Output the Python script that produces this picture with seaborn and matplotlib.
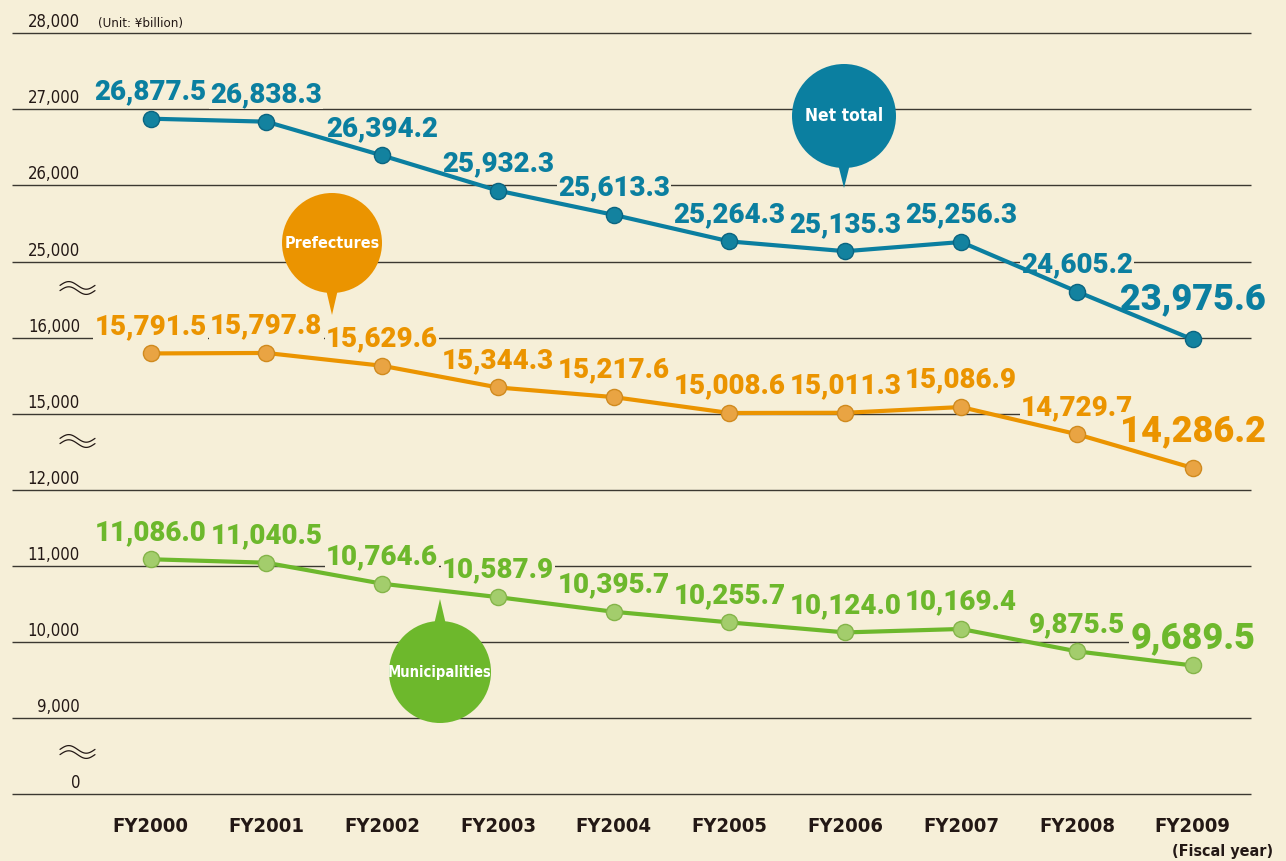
import numpy as np
import pandas as pd
import matplotlib
matplotlib.use("Agg")
import matplotlib.pyplot as plt
import seaborn as sns
from matplotlib.patches import Circle, Polygon

# ---------------- data ----------------
fiscal_years = ["FY2000", "FY2001", "FY2002", "FY2003", "FY2004",
                "FY2005", "FY2006", "FY2007", "FY2008", "FY2009"]
net_total = [26877.5, 26838.3, 26394.2, 25932.3, 25613.3,
             25264.3, 25135.3, 25256.3, 24605.2, 23975.6]
prefectures = [15791.5, 15797.8, 15629.6, 15344.3, 15217.6,
               15008.6, 15011.3, 15086.9, 14729.7, 14286.2]
municipalities = [11086.0, 11040.5, 10764.6, 10587.9, 10395.7,
                  10255.7, 10124.0, 10169.4, 9875.5, 9689.5]
y_tick_values = [0, 9000, 10000, 11000, 12000, 15000, 16000,
                 25000, 26000, 27000, 28000]
series_names = ["Net total", "Prefectures", "Municipalities"]
band_bases = [25000, 15000, 10000]   # broken-axis band in which each series is drawn
band_unit = 1000                     # value per gridline step

# ---------------- styles ----------------
BG = "#F6EFD8"
TXT = "#231815"
line_colors = {"Net total": "#0B7FA0", "Prefectures": "#EB9400", "Municipalities": "#6DB82C"}
marker_face = {"Net total": "#13829F", "Prefectures": "#E9A443", "Municipalities": "#A3CD6C"}
marker_edge = {"Net total": "#0A6581", "Prefectures": "#D08A1E", "Municipalities": "#84B449"}
last_label_offset = {"Net total": 21.5, "Prefectures": 19.0, "Municipalities": 12.5}
bubble_geo = {  # centre x, centre y, radius, tip y (pixels)
    "Net total": (844, 116, 52, 188),
    "Prefectures": (332, 243, 50, 315),
    "Municipalities": (440, 672, 51, 599),
}
bubble_fs = {"Net total": 12.5, "Prefectures": 11.5, "Municipalities": 10.5}

sns.set_theme(style="white")
plt.rcParams["font.family"] = ["DejaVu Sans"]
COND = ["Liberation Sans Narrow", "Noto Sans Condensed", "DejaVu Sans"]
NUM = ["Roboto", "Lato", "DejaVu Sans"]

W, H = 1286, 861
X0, DX = 150.5, 115.8     # pixel x of first category, pixel step
Y0, DY = 794.0, 76.07     # pixel y of gridline 0, pixel step


def px_x(p):
    return (p - X0) / DX


def px_y(p):
    return (Y0 - p) / DY


def to_axis(values, base):
    start = y_tick_values.index(base)
    return [start + (v - base) / band_unit for v in values]


rows = []
for name, vals, base in zip(series_names, [net_total, prefectures, municipalities], band_bases):
    for i, (fy, v) in enumerate(zip(fiscal_years, vals)):
        rows.append({"series": name, "idx": i, "year": fy, "value": v,
                     "pos": to_axis([v], base)[0]})
df = pd.DataFrame(rows)

fig = plt.figure(figsize=(W / 100, H / 100), dpi=100)
fig.patch.set_facecolor(BG)
ax = fig.add_axes([0, 0, 1, 1])
ax.set_facecolor(BG)
ax.set_xlim(px_x(0), px_x(W))
ax.set_ylim(px_y(H), px_y(0))
ax.axis("off")

# gridlines
ax.hlines(range(len(y_tick_values)), px_x(12), px_x(1251), colors="#3b3831",
          linewidth=1.0, zorder=1)

# y tick labels (drawn above each gridline)
for i, v in enumerate(y_tick_values):
    ax.text(px_x(80), i + 6 / DY, f"{v:,}", ha="right", va="baseline",
            fontsize=12, family=COND, fontstretch="condensed", color=TXT)
ax.text(px_x(98), len(y_tick_values) - 1 + 6.5 / DY, "(Unit: ¥billion)", ha="left",
        va="baseline", fontsize=9.5, family=COND, fontstretch="condensed", color=TXT)

# x labels
for i, fy in enumerate(fiscal_years):
    ax.text(i, px_y(832), fy, ha="center", va="baseline", fontsize=14.5,
            fontweight="bold", family=COND, fontstretch="condensed", color=TXT)
ax.text(px_x(1273), px_y(856), "(Fiscal year)", ha="right", va="baseline",
        fontsize=11.5, fontweight="bold", family=COND, fontstretch="condensed", color=TXT)

# lines
sns.lineplot(data=df, x="idx", y="pos", hue="series", palette=line_colors,
             sort=False, linewidth=3, legend=False, errorbar=None, ax=ax, zorder=3)
ax.set_xlim(px_x(0), px_x(W))
ax.set_ylim(px_y(H), px_y(0))

# markers
for name in series_names:
    sub = df[df["series"] == name]
    sns.scatterplot(data=sub, x="idx", y="pos", color=marker_face[name],
                    edgecolor=marker_edge[name], linewidth=1.0, s=135,
                    legend=False, ax=ax, zorder=4)

# value labels
for name in series_names:
    sub = df[df["series"] == name].reset_index(drop=True)
    n = len(sub)
    for k, r in sub.iterrows():
        last = k == n - 1
        ax.annotate(f"{r['value']:,.1f}", xy=(r["idx"], r["pos"]),
                    xytext=(0, last_label_offset[name] if last else 14),
                    textcoords="offset points", ha="center", va="baseline",
                    fontsize=26 if last else 20, fontweight="black", family=NUM,
                    color=line_colors[name], zorder=2.5,
                    bbox=dict(boxstyle="square,pad=0.04", fc=BG, ec="none"))

# overlay in pixel coordinates for callout bubbles and axis-break marks
ov = fig.add_axes([0, 0, 1, 1])
ov.set_xlim(0, W)
ov.set_ylim(H, 0)
ov.axis("off")
ov.patch.set_alpha(0)

for name in series_names:
    cx, cy, r, ty = bubble_geo[name]
    col = line_colors[name]
    ov.add_patch(Circle((cx, cy), r, fc=col, ec="none", zorder=5))
    sgn = 1 if ty > cy else -1
    by = cy + sgn * (r - 8)
    ov.add_patch(Polygon([(cx - 7, by), (cx + 7, by), (cx, ty)], closed=True,
                         fc=col, ec="none", zorder=5))
    ov.text(cx, cy, name, ha="center", va="center", fontsize=bubble_fs[name],
            fontweight="bold", family=COND, fontstretch="condensed",
            color="white", zorder=6)

# break marks (≈) between the bands
t = np.linspace(0, 1, 60)
for yc in [288, 441, 752]:
    xs = 60 + 35 * t
    for dy in (-2.6, 2.6):
        ov.plot(xs, yc + dy - 3.8 * np.sin(2 * np.pi * t), color=TXT, lw=0.9, zorder=6)

fig.savefig("out.png", dpi=100, facecolor=BG)
